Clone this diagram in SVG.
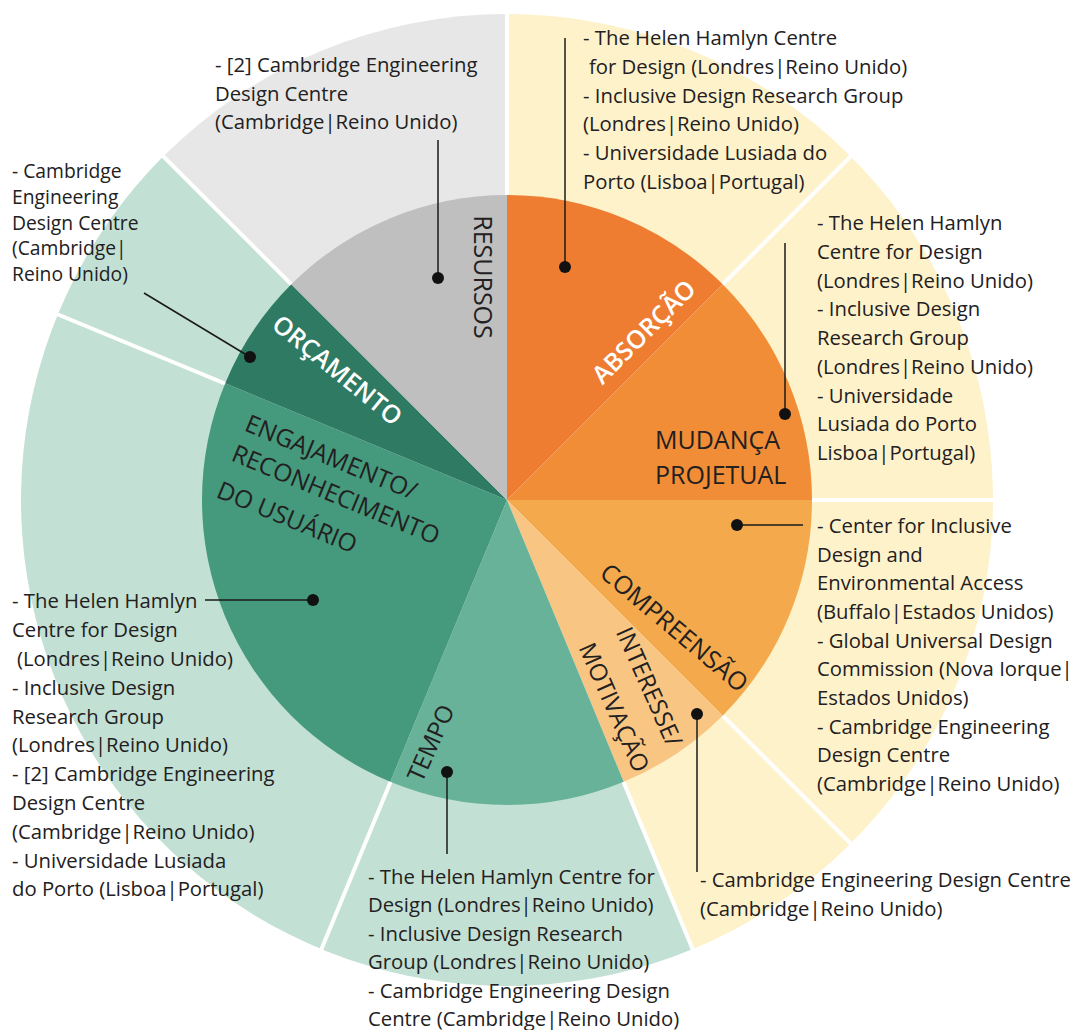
<svg xmlns="http://www.w3.org/2000/svg" width="1073" height="1030" viewBox="0 0 1073 1030">
<style>
.t{font-family:"Open Sans","Liberation Sans",sans-serif;font-size:20.3px;font-weight:500;fill:#222021}
.ts{font-family:"Open Sans","Liberation Sans",sans-serif;font-size:19.3px;font-weight:500;fill:#222021}
.lab{font-family:"Open Sans","Liberation Sans",sans-serif;font-size:25px;font-weight:500;fill:#222021}
.labw{font-family:"Open Sans","Liberation Sans",sans-serif;font-size:25px;font-weight:600;fill:#FFFFFF}
.div{stroke:#FFFFFF;stroke-width:4;fill:none}
.con{stroke:#1A1A1A;stroke-width:1.5;fill:none}
.dot{fill:#111111}
</style>
<rect width="1073" height="1030" fill="#FFFFFF"/>
<g id="outer-ring">
<path d="M507,500 L163.35,156.35 A486,486 0 0 1 507,14 Z" fill="#E7E7E7"/>
<path d="M507,500 L507,14 A486,486 0 0 1 692.98,949.01 Z" fill="#FEF2CB"/>
<path d="M507,500 L692.98,949.01 A486,486 0 0 1 163.35,156.35 Z" fill="#C2E0D3"/>
<path class="div" d="M507,500 L507,8 M507,500 L855,152 M507,500 L999,500 M507,500 L855,848 M507,500 L695,955 M507,500 L319,955 M507,500 L52,312 M507,500 L159,152"/>
</g>
<g id="absorcao">
<path d="M507,500 L507,195 A305,305 0 0 1 722.67,284.33 Z" fill="#EE7D31"/>
<text class="labw" x="650" y="338" text-anchor="middle" transform="rotate(-45 650 338)">ABSORÇÃO</text>
</g>
<g id="mudanca">
<path d="M507,500 L722.67,284.33 A305,305 0 0 1 812,500 Z" fill="#F18D37"/>
<text class="lab" x="655" y="448.5">MUDANÇA</text>
<text class="lab" x="655" y="483.5">PROJETUAL</text>
</g>
<g id="compreensao">
<path d="M507,500 L812,500 A305,305 0 0 1 722.67,715.67 Z" fill="#F4AA4C"/>
<text class="lab" x="668.5" y="634.4" text-anchor="middle" transform="rotate(40 668.5 634.4)">COMPREENSÃO</text>
</g>
<g id="interesse">
<path d="M507,500 L722.67,715.67 A305,305 0 0 1 623.72,781.78 Z" fill="#F8C682"/>
<text class="lab" style="font-size:24px" x="641.6" y="690.2" text-anchor="middle" transform="rotate(66 641.6 690.2)">INTERESSE/</text>
<text class="lab" style="font-size:24px" x="606.5" y="710.8" text-anchor="middle" transform="rotate(66 606.5 710.8)">MOTIVAÇÃO</text>
</g>
<g id="tempo">
<path d="M507,500 L623.72,781.78 A305,305 0 0 1 390.28,781.78 Z" fill="#67B298"/>
<text class="lab" style="font-size:24px" x="438.5" y="746.5" text-anchor="middle" transform="rotate(-66 438.5 746.5)">TEMPO</text>
</g>
<g id="engajamento">
<path d="M507,500 L390.28,781.78 A305,305 0 0 1 225.22,383.28 Z" fill="#45997C"/>
<text class="lab" style="font-size:24.5px" x="243.3" y="430" transform="rotate(22.5 243.3 430)">ENGAJAMENTO/</text>
<text class="lab" style="font-size:24.5px" x="230" y="460" transform="rotate(22.5 230 460)">RECONHECIMENTO</text>
<text class="lab" style="font-size:24.5px" x="215" y="496.7" transform="rotate(22.5 215 496.7)">DO USUÁRIO</text>
</g>
<g id="orcamento">
<path d="M507,500 L225.22,383.28 A305,305 0 0 1 291.33,284.33 Z" fill="#2E7A62"/>
<text class="labw" x="331.8" y="377" text-anchor="middle" transform="rotate(39 331.8 377)">ORÇAMENTO</text>
</g>
<g id="resursos">
<path d="M507,500 L291.33,284.33 A305,305 0 0 1 507,195 Z" fill="#BFBFBF"/>
<text class="lab" x="474" y="277" text-anchor="middle" transform="rotate(90 474 277)">RESURSOS</text>
</g>
<g id="note-resursos">
<text class="t"><tspan x="215" y="72">- [2] Cambridge Engineering</tspan><tspan x="215" y="100.7">Design Centre</tspan><tspan x="215" y="129.4">(Cambridge|Reino Unido)</tspan></text>
</g>
<g id="note-absorcao">
<text class="t"><tspan x="583" y="45">- The Helen Hamlyn Centre</tspan><tspan x="589" y="73.8">for Design (Londres|Reino Unido)</tspan><tspan x="583" y="102.6">- Inclusive Design Research Group</tspan><tspan x="583" y="131.4">(Londres|Reino Unido)</tspan><tspan x="583" y="160.2">- Universidade Lusiada do</tspan><tspan x="583" y="189">Porto (Lisboa|Portugal)</tspan></text>
</g>
<g id="note-mudanca">
<text class="t"><tspan x="817" y="230">- The Helen Hamlyn</tspan><tspan x="817" y="258.75">Centre for Design</tspan><tspan x="817" y="287.5">(Londres|Reino Unido)</tspan><tspan x="817" y="316.25">- Inclusive Design</tspan><tspan x="817" y="345">Research Group</tspan><tspan x="817" y="373.75">(Londres|Reino Unido)</tspan><tspan x="817" y="402.5">- Universidade</tspan><tspan x="817" y="431.25">Lusiada do Porto</tspan><tspan x="817" y="460">Lisboa|Portugal)</tspan></text>
</g>
<g id="note-compreensao">
<text class="t"><tspan x="817" y="533">- Center for Inclusive</tspan><tspan x="817" y="561.7">Design and</tspan><tspan x="817" y="590.3">Environmental Access</tspan><tspan x="817" y="619">(Buffalo|Estados Unidos)</tspan><tspan x="817" y="647.6">- Global Universal Design</tspan><tspan x="817" y="676.3">Commission (Nova Iorque|</tspan><tspan x="817" y="704.9">Estados Unidos)</tspan><tspan x="817" y="733.6">- Cambridge Engineering</tspan><tspan x="817" y="762.2">Design Centre</tspan><tspan x="817" y="790.9">(Cambridge|Reino Unido)</tspan></text>
</g>
<g id="note-interesse">
<text class="t"><tspan x="700" y="887">- Cambridge Engineering Design Centre</tspan><tspan x="700" y="915.5">(Cambridge|Reino Unido)</tspan></text>
</g>
<g id="note-tempo">
<text class="t"><tspan x="368" y="883.5">- The Helen Hamlyn Centre for</tspan><tspan x="368" y="912">Design (Londres|Reino Unido)</tspan><tspan x="368" y="940.5">- Inclusive Design Research</tspan><tspan x="368" y="969">Group (Londres|Reino Unido)</tspan><tspan x="368" y="997.5">- Cambridge Engineering Design</tspan><tspan x="368" y="1026">Centre (Cambridge|Reino Unido)</tspan></text>
</g>
<g id="note-engajamento">
<text class="t"><tspan x="12" y="608.3">- The Helen Hamlyn</tspan><tspan x="12" y="637.1">Centre for Design</tspan><tspan x="17" y="665.9">(Londres|Reino Unido)</tspan><tspan x="12" y="694.7">- Inclusive Design</tspan><tspan x="12" y="723.5">Research Group</tspan><tspan x="12" y="752.3">(Londres|Reino Unido)</tspan><tspan x="12" y="781.1">- [2] Cambridge Engineering</tspan><tspan x="12" y="809.9">Design Centre</tspan><tspan x="12" y="838.7">(Cambridge|Reino Unido)</tspan><tspan x="12" y="867.5">- Universidade Lusiada</tspan><tspan x="12" y="896.3">do Porto (Lisboa|Portugal)</tspan></text>
</g>
<g id="note-orcamento">
<text class="ts"><tspan x="12" y="178">- Cambridge</tspan><tspan x="12" y="203.8">Engineering</tspan><tspan x="12" y="229.6">Design Centre</tspan><tspan x="12" y="255.4">(Cambridge|</tspan><tspan x="12" y="281.2">Reino Unido)</tspan></text>
</g>
<g id="connectors">
<path class="con" d="M438,140 V278"/>
<path class="con" d="M565,38 V267"/>
<path class="con" d="M785,243 V414"/>
<path class="con" d="M737,525 H803"/>
<path class="con" d="M697,714 V872"/>
<path class="con" d="M447,772 V854"/>
<path class="con" d="M205,600 H313"/>
<path class="con" d="M144,293 L250,357"/>
<circle class="dot" cx="438" cy="278" r="6"/>
<circle class="dot" cx="565" cy="267" r="6"/>
<circle class="dot" cx="785" cy="414" r="6"/>
<circle class="dot" cx="737" cy="525" r="6"/>
<circle class="dot" cx="697" cy="714" r="6"/>
<circle class="dot" cx="447" cy="772" r="6"/>
<circle class="dot" cx="313" cy="600" r="6"/>
<circle class="dot" cx="250" cy="357" r="6"/>
</g>
</svg>
